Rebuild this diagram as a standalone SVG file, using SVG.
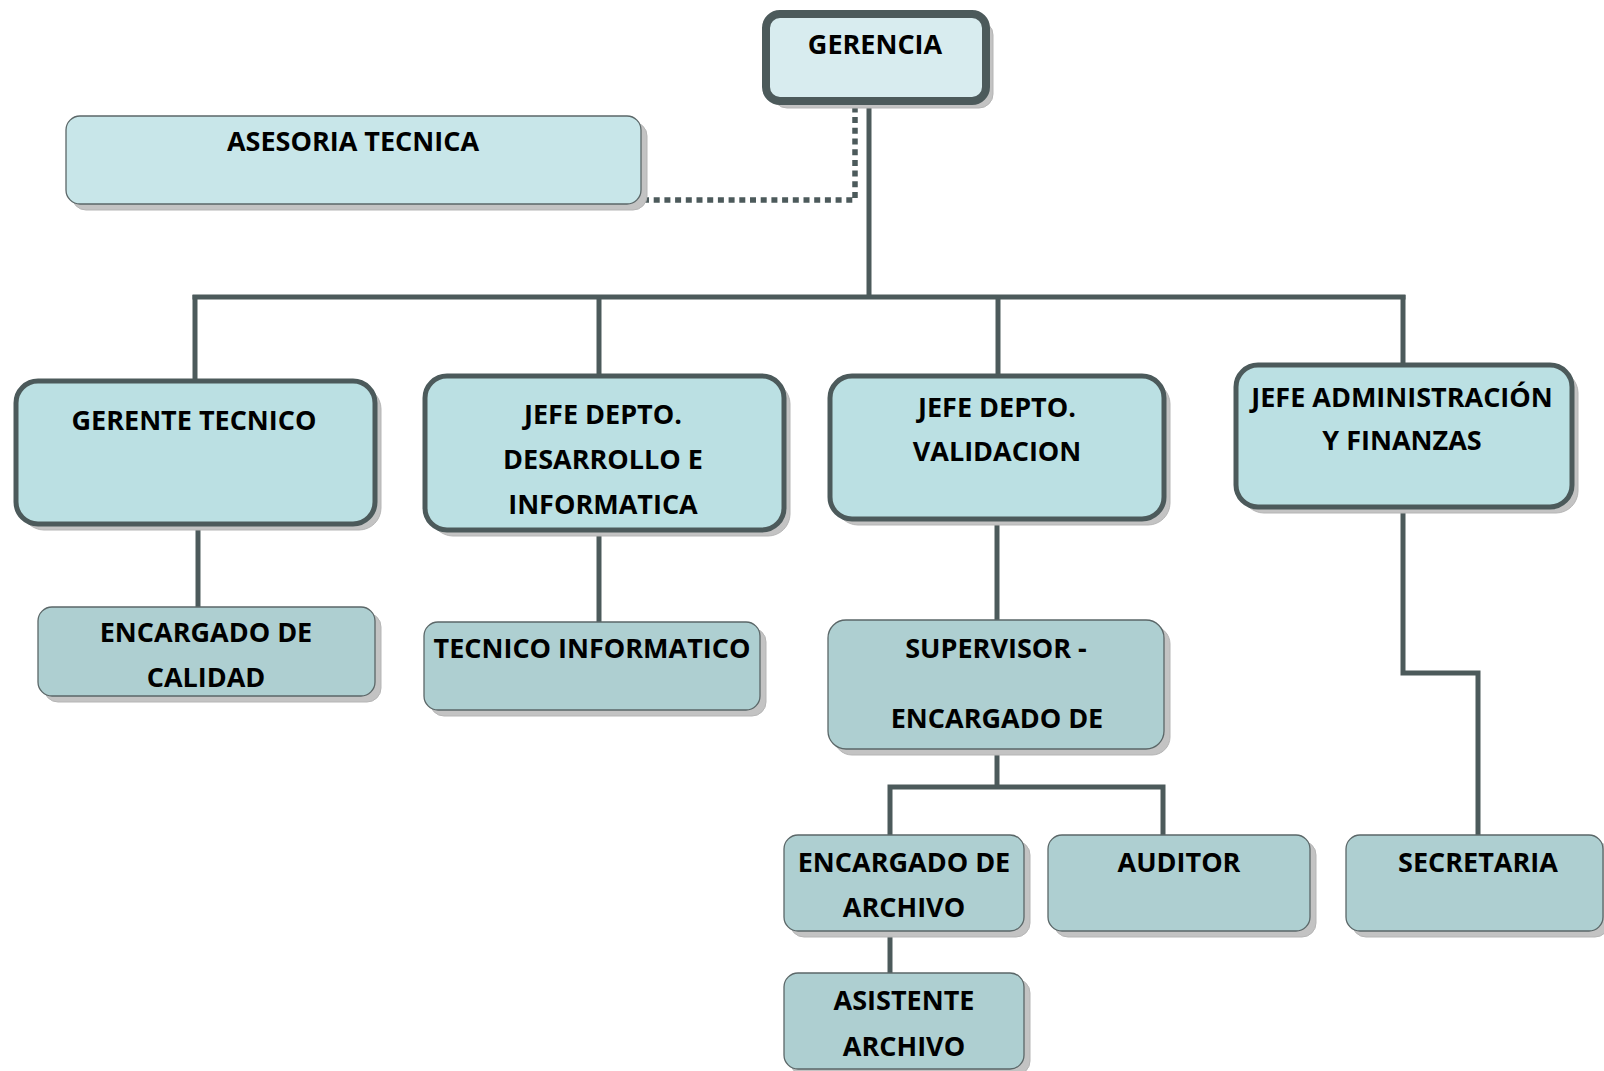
<svg xmlns="http://www.w3.org/2000/svg" width="1604" height="1071" viewBox="0 0 1604 1071">
  <style>
    .shadow { fill: #c3c3c3; stroke: #b5b5b5; stroke-width: 1; }
    .top { fill: #d8ecef; stroke: #4c5a5b; stroke-width: 8; }
    .staff { fill: #c8e6e9; stroke: #5b6768; stroke-width: 1.3; }
    .head { fill: #bbe0e3; stroke: #4c5a5b; stroke-width: 5; }
    .unit { fill: #aecfd1; stroke: #5b6768; stroke-width: 1.3; }
    .link { fill: none; stroke: #4c5a5b; stroke-width: 5; stroke-linecap: butt; stroke-linejoin: miter; }
    .dotted { stroke-dasharray: 6 4.7; stroke-width: 5.5; }
    text { font-family: "Open Sans", "Liberation Sans", sans-serif; font-weight: bold; font-size: 27px; fill: #000; text-anchor: middle; }
  </style>

  <rect width="1604" height="1071" fill="#ffffff"/>

  <!-- connectors -->
  <g id="connectors">
    <path class="link dotted" d="M643 200 H855 V104"/>
    <path class="link" d="M869 104 V297"/>
    <path class="link" d="M192.5 297 H1405.5"/>
    <path class="link" d="M195 295 V381"/>
    <path class="link" d="M599 295 V376"/>
    <path class="link" d="M998 295 V376"/>
    <path class="link" d="M1403 295 V365"/>
    <path class="link" d="M198 524 V607"/>
    <path class="link" d="M599 530 V622"/>
    <path class="link" d="M997 519 V620"/>
    <path class="link" d="M997 749 V787"/>
    <path class="link" d="M890 835 V787 H1163 V835"/>
    <path class="link" d="M890 931 V973"/>
    <path class="link" d="M1403 507 V673 H1478 V835"/>
  </g>

  <!-- top level -->
  <g id="gerencia">
    <rect class="shadow" x="773" y="21" width="220" height="87" rx="14"/>
    <rect class="top" x="766" y="14" width="220" height="87" rx="14"/>
    <text x="875" y="54">GERENCIA</text>
  </g>

  <g id="asesoria-tecnica">
    <rect class="shadow" x="72" y="122" width="575" height="88" rx="14"/>
    <rect class="staff" x="66" y="116" width="575" height="88" rx="14"/>
    <text x="353" y="151">ASESORIA TECNICA</text>
  </g>

  <!-- department heads -->
  <g id="gerente-tecnico">
    <rect class="shadow" x="22" y="387" width="359" height="143" rx="22"/>
    <rect class="head" x="16" y="381" width="359" height="143" rx="22"/>
    <text x="194" y="430">GERENTE TECNICO</text>
  </g>

  <g id="jefe-desarrollo">
    <rect class="shadow" x="431" y="382" width="359" height="154" rx="22"/>
    <rect class="head" x="425" y="376" width="359" height="154" rx="22"/>
    <text x="603" y="424">JEFE DEPTO.</text>
    <text x="603" y="469">DESARROLLO E</text>
    <text x="603" y="514">INFORMATICA</text>
  </g>

  <g id="jefe-validacion">
    <rect class="shadow" x="836" y="382" width="334" height="143" rx="22"/>
    <rect class="head" x="830" y="376" width="334" height="143" rx="22"/>
    <text x="997" y="417">JEFE DEPTO.</text>
    <text x="997" y="461">VALIDACION</text>
  </g>

  <g id="jefe-administracion">
    <rect class="shadow" x="1242" y="371" width="336" height="142" rx="22"/>
    <rect class="head" x="1236" y="365" width="336" height="142" rx="22"/>
    <text x="1402" y="407">JEFE ADMINISTRACIÓN</text>
    <text x="1402" y="450">Y FINANZAS</text>
  </g>

  <!-- staff units -->
  <g id="encargado-calidad">
    <rect class="shadow" x="44" y="613" width="337" height="89" rx="14"/>
    <rect class="unit" x="38" y="607" width="337" height="89" rx="14"/>
    <text x="206" y="642">ENCARGADO DE</text>
    <text x="206" y="687">CALIDAD</text>
  </g>

  <g id="tecnico-informatico">
    <rect class="shadow" x="430" y="628" width="336" height="88" rx="14"/>
    <rect class="unit" x="424" y="622" width="336" height="88" rx="14"/>
    <text x="592" y="658">TECNICO INFORMATICO</text>
  </g>

  <g id="supervisor">
    <rect class="shadow" x="834" y="626" width="336" height="129" rx="18"/>
    <rect class="unit" x="828" y="620" width="336" height="129" rx="18"/>
    <text x="996" y="658">SUPERVISOR -</text>
    <text x="997" y="728">ENCARGADO DE</text>
  </g>

  <g id="encargado-archivo">
    <rect class="shadow" x="790" y="841" width="240" height="96" rx="14"/>
    <rect class="unit" x="784" y="835" width="240" height="96" rx="14"/>
    <text x="904" y="872">ENCARGADO DE</text>
    <text x="904" y="917">ARCHIVO</text>
  </g>

  <g id="auditor">
    <rect class="shadow" x="1054" y="841" width="262" height="96" rx="14"/>
    <rect class="unit" x="1048" y="835" width="262" height="96" rx="14"/>
    <text x="1179" y="872">AUDITOR</text>
  </g>

  <g id="asistente-archivo">
    <rect class="shadow" x="790" y="979" width="240" height="96" rx="14"/>
    <rect class="unit" x="784" y="973" width="240" height="96" rx="14"/>
    <text x="904" y="1010">ASISTENTE</text>
    <text x="904" y="1056">ARCHIVO</text>
  </g>

  <g id="secretaria">
    <rect class="shadow" x="1352" y="841" width="257" height="96" rx="14"/>
    <rect class="unit" x="1346" y="835" width="257" height="96" rx="14"/>
    <text x="1478" y="872">SECRETARIA</text>
  </g>
</svg>
